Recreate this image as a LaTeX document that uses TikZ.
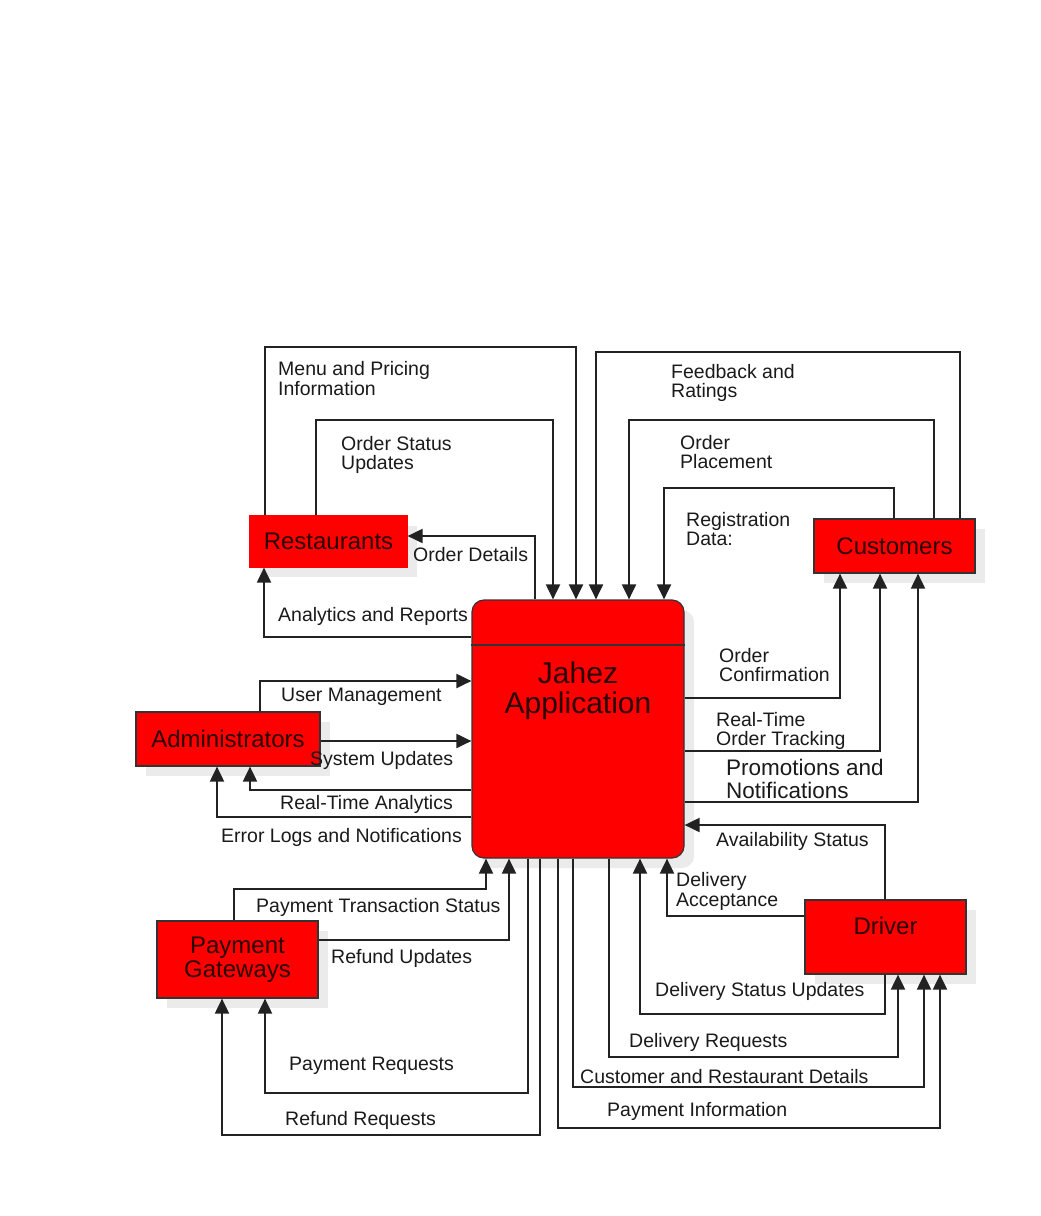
\documentclass[tikz,border=0pt]{standalone}
\usepackage{fontspec}
\setmainfont{Liberation Sans}
\usetikzlibrary{arrows.meta,shadows}
\definecolor{boxred}{HTML}{FF0000}
\definecolor{boxline}{HTML}{333333}
\definecolor{flowline}{HTML}{222222}
\definecolor{boxtext}{HTML}{2A0000}
\definecolor{labeltext}{HTML}{1A1A1A}
\tikzset{
entity/.style={rectangle, draw=boxline, line width=1.2pt, fill=boxred, text=boxtext, inner sep=0pt,
  font=\fontsize{24}{24}\selectfont, drop shadow={shadow xshift=10pt, shadow yshift=-10pt, fill=black!8, opacity=1}},
flow/.style={draw=flowline, line width=2pt, -{Triangle[length=15pt,width=14pt]}},
flowlabel/.style={anchor=west, align=left, inner sep=0pt, yshift=-2pt, text=labeltext, font=\fontsize{19.5}{19.5}\selectfont}
}

\begin{document}
\begin{tikzpicture}[x=1pt,y=-1pt]
\fill[white] (0,0) rectangle (1041,1216);
\useasboundingbox (0,0) rectangle (1041,1216);

% the process
\node[entity, rounded corners=12pt, minimum width=212pt, minimum height=258pt] (jahez) at (578,729) {};
\draw[boxline, line width=1.2pt] (jahez.west |- 0,645) -- (jahez.east |- 0,645);
\node[font=\fontsize{30}{30}\selectfont, text=boxtext, align=center, inner sep=0pt] (appname) at (578,691) {Jahez\\Application};

% external entities
\node[entity, draw=boxred, minimum width=157pt, minimum height=51pt] (rest) at (328.5,541.5) {Restaurants};
\node[entity, minimum width=161pt, minimum height=54pt] (cust) at (894.5,546) {Customers};
\node[entity, minimum width=184pt, minimum height=54pt] (admin) at (228,739) {Administrators};
\node[entity, align=center, minimum width=161pt, minimum height=77pt] (pay) at (237.5,959.5) {Payment\\Gateways};
\node[entity, text depth=22pt, minimum width=161pt, minimum height=74pt] (driver) at (885.5,937) {Driver};

% restaurants
\draw[flow] (rest.north -| 265,0) |- (576,347) -- (jahez.north -| 576,0);
\draw[flow] (rest.north -| 316,0) |- (553,420) -- (jahez.north -| 553,0);
\draw[flow] (jahez.north -| 535,0) |- (rest.east |- 0,536);
\draw[flow] (jahez.west |- 0,637) -| (rest.south -| 264,0);
\node[flowlabel] (lmenu) at (278,376.5) {Menu and Pricing\\Information};
\node[flowlabel] (lstatus) at (341,453) {Order Status\\Updates};
\node[flowlabel] (ldetails) at (413,553) {Order Details};
\node[flowlabel] (lanalytics) at (278,614) {Analytics and Reports};

% customers
\draw[flow] (cust.north -| 960,0) |- (596,352) -- (jahez.north -| 596,0);
\draw[flow] (cust.north -| 934,0) |- (629,420) -- (jahez.north -| 629,0);
\draw[flow] (cust.north -| 894,0) |- (664,488) -- (jahez.north -| 664,0);
\draw[flow] (jahez.east |- 0,698) -| (cust.south -| 840,0);
\draw[flow] (jahez.east |- 0,751) -| (cust.south -| 880,0);
\draw[flow] (jahez.east |- 0,802) -| (cust.south -| 918,0);
\node[flowlabel] (lfeedback) at (671,381) {Feedback and\\Ratings};
\node[flowlabel] (lplacement) at (680,450) {Order\\Placement};
\node[flowlabel] (lregister) at (686,527) {Registration\\Data:};
\node[flowlabel] (lconfirm) at (719,663) {Order\\Confirmation};
\node[flowlabel] (ltracking) at (716,729) {Real-Time\\Order Tracking};
\node[flowlabel, font=\fontsize{22.5}{23}\selectfont] (lpromo) at (726,776.5) {Promotions and\\Notifications};

% administrators
\draw[flow] (admin.north -| 260,0) |- (jahez.west |- 0,681);
\draw[flow] (admin.east |- 0,741) -- (jahez.west |- 0,741);
\draw[flow] (jahez.west |- 0,790) -| (admin.south -| 250,0);
\draw[flow] (jahez.west |- 0,817) -| (admin.south -| 217,0);
\node[flowlabel] (luser) at (281,695) {User Management};
\node[flowlabel] (lsystem) at (310,758) {System Updates};
\node[flowlabel] (lrtanalytics) at (280,802) {Real-Time Analytics};
\node[flowlabel] (lerrors) at (221,835) {Error Logs and Notifications};

% payment gateways
\draw[flow] (pay.north -| 234,0) |- (486,889) -- (jahez.south -| 486,0);
\draw[flow] (pay.east |- 0,940) -| (jahez.south -| 509,0);
\draw[flow] (jahez.south -| 528,0) |- (265,1093) -- (pay.south -| 265,0);
\draw[flow] (jahez.south -| 540,0) |- (222,1135) -- (pay.south -| 222,0);
\node[flowlabel] (ltransaction) at (256,905) {Payment Transaction Status};
\node[flowlabel] (lrefundupd) at (331,956) {Refund Updates};
\node[flowlabel] (lpayreq) at (289,1064) {Payment Requests};
\node[flowlabel] (lrefundreq) at (285,1118) {Refund Requests};

% driver
\draw[flow] (driver.north -| 885,0) |- (jahez.east |- 0,825);
\draw[flow] (driver.west |- 0,916) -| (jahez.south -| 667,0);
\draw[flow] (driver.south -| 885,0) |- (640,1014) -- (jahez.south -| 640,0);
\draw[flow] (jahez.south -| 609,0) |- (898,1057) -- (driver.south -| 898,0);
\draw[flow] (jahez.south -| 573,0) |- (924,1087) -- (driver.south -| 924,0);
\draw[flow] (jahez.south -| 558,0) |- (940,1128) -- (driver.south -| 940,0);
\node[flowlabel] (lavail) at (716,839) {Availability Status};
\node[flowlabel] (laccept) at (676,889.5) {Delivery\\Acceptance};
\node[flowlabel] (ldelstatus) at (655,989) {Delivery Status Updates};
\node[flowlabel] (ldelreq) at (629,1040) {Delivery Requests};
\node[flowlabel] (lcustrest) at (580,1075) {Customer and Restaurant Details};
\node[flowlabel] (lpayinfo) at (607,1109) {Payment Information};

\end{tikzpicture}
\end{document}
